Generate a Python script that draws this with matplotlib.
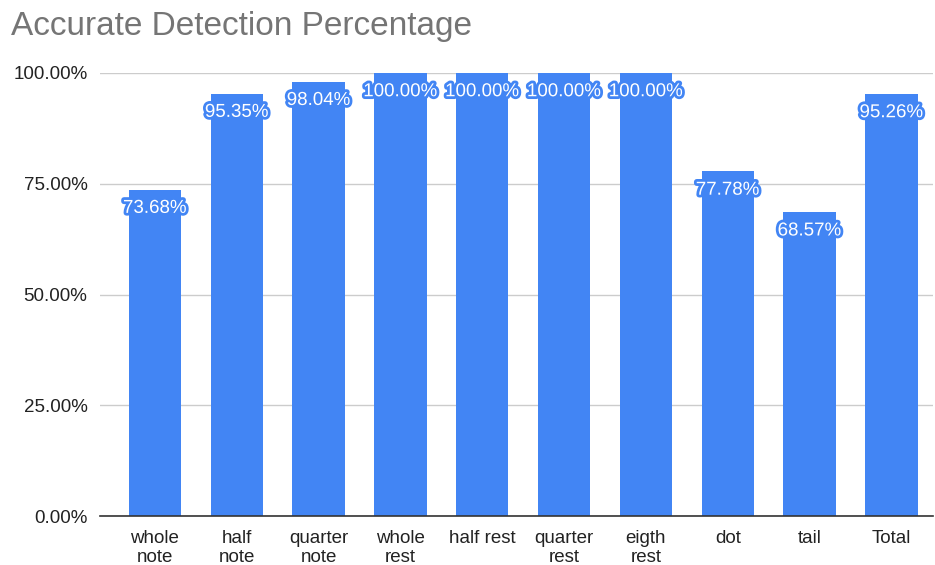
import matplotlib.pyplot as plt
import matplotlib.patheffects as pe
from matplotlib.ticker import PercentFormatter

categories = ["whole\nnote", "half\nnote", "quarter\nnote", "whole\nrest", "half rest",
              "quarter\nrest", "eigth\nrest", "dot", "tail", "Total"]
accuracy = [73.68, 95.35, 98.04, 100.00, 100.00, 100.00, 100.00, 77.78, 68.57, 95.26]
yticks = [0, 25, 50, 75, 100]

BLUE = "#4285F4"

plt.rcParams["font.family"] = ["Liberation Sans", "DejaVu Sans"]

fig = plt.figure(figsize=(9.35, 5.65), dpi=100)
ax = fig.add_axes([0.107, 0.0867, 0.891, 0.7841])

x = list(range(len(categories)))
ax.bar(x, accuracy, width=0.64, color=BLUE, zorder=2)

for xi, v in zip(x, accuracy):
    ax.annotate(f"{v:.2f}%", (xi, v), xytext=(0, -13.5), textcoords="offset points",
                ha="center", va="center", fontsize=13.5, color="white", zorder=4,
                annotation_clip=False,
                path_effects=[pe.Stroke(linewidth=4, foreground=BLUE), pe.Normal()])

ax.set_xlim(-0.67, 9.51)
ax.set_ylim(0, 100)
ax.set_yticks(yticks)
ax.yaxis.set_major_formatter(PercentFormatter(decimals=2))
ax.set_xticks(x)
ax.set_xticklabels(categories, linespacing=1.15)
ax.tick_params(axis="both", length=0, labelsize=13.5, colors="#222222")
ax.tick_params(axis="x", pad=10)
ax.tick_params(axis="y", pad=9)

ax.grid(axis="y", color="#cccccc", linewidth=1, zorder=0)
for s in ["top", "right", "left"]:
    ax.spines[s].set_visible(False)
ax.spines["bottom"].set_color("#333333")
ax.spines["bottom"].set_linewidth(1.2)
ax.spines["bottom"].set_zorder(3)

fig.text(0.012, 0.953, "Accurate Detection Percentage", fontsize=24, color="#757575",
         ha="left", va="center")

fig.savefig("out.png", dpi=100)
